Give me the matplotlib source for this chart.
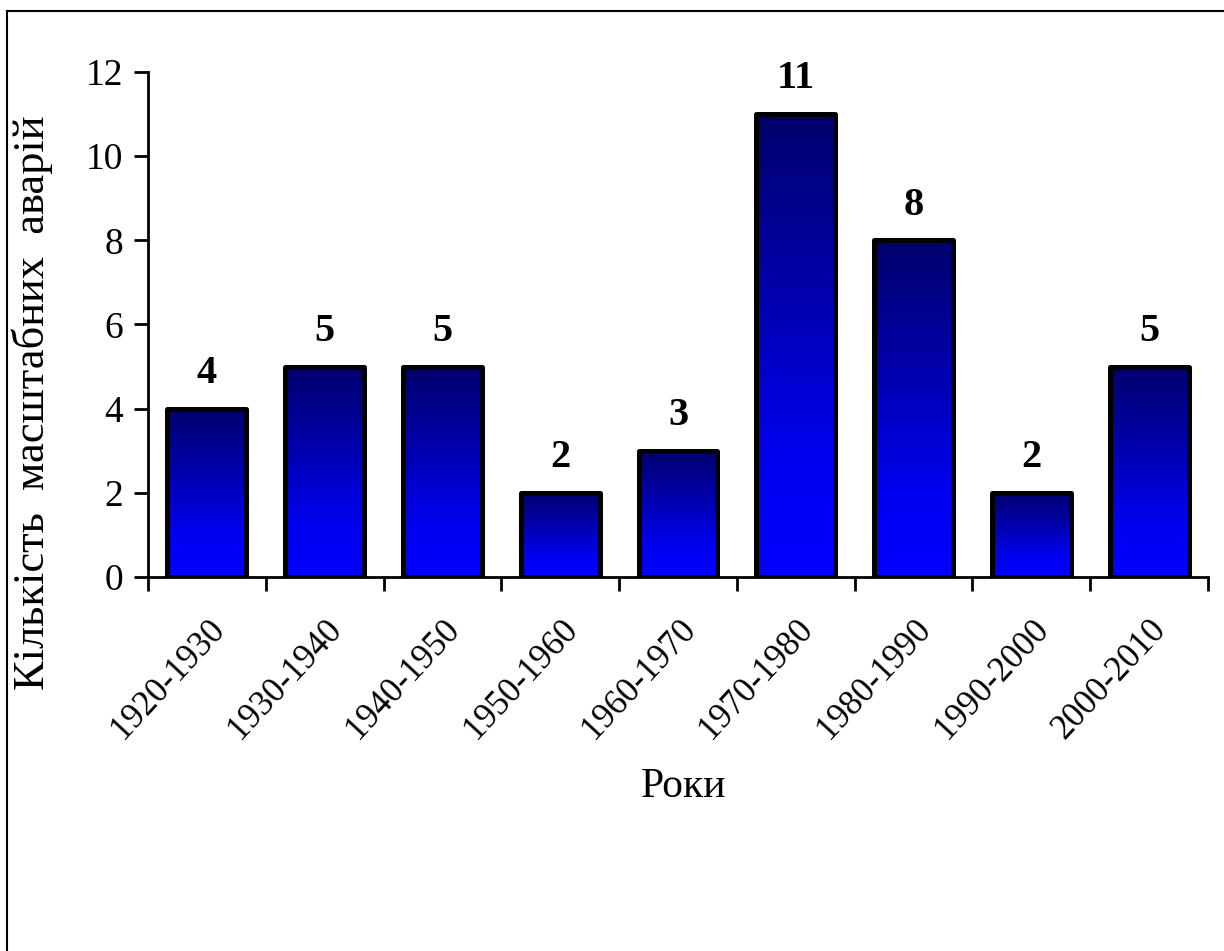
import numpy as np
import matplotlib
matplotlib.use("Agg")
import matplotlib.pyplot as plt
from matplotlib.colors import LinearSegmentedColormap
from matplotlib.lines import Line2D

# Major accidents per decade
decades = ["1920-1930", "1930-1940", "1940-1950", "1950-1960", "1960-1970",
           "1970-1980", "1980-1990", "1990-2000", "2000-2010"]
accidents = [4, 5, 5, 2, 3, 11, 8, 2, 5]

plt.rcParams["font.family"] = "Liberation Serif"

BAR_W = 0.67

fig = plt.figure(figsize=(12.24, 9.51), dpi=100)
ax = fig.add_axes([0.1209, 0.3933, 0.8660, 0.5310])

x = np.arange(len(decades))
bars = ax.bar(x, accidents, width=BAR_W, facecolor="none",
              edgecolor="black", linewidth=3.6, zorder=3)

# vertical gradient: dark navy at the top to bright blue at the bottom
cmap = LinearSegmentedColormap.from_list(
    "navy_blue", [(0.0, "#0000ff"), (0.25, "#0000f0"), (0.6, "#0000b0"), (1.0, "#00006c")])
grad = np.linspace(0, 1, 256).reshape(-1, 1)
for b in bars:
    bx, bw, bh = b.get_x(), b.get_width(), b.get_height()
    im = ax.imshow(grad, cmap=cmap, origin="lower", aspect="auto",
                   extent=[bx, bx + bw, 0, bh], zorder=2)
    im.set_clip_path(b)
    b.set_joinstyle("round")

for xi, v in zip(x, accidents):
    ax.annotate(str(v), (xi, v), xytext=(0, 12), textcoords="offset points",
                ha="center", va="bottom", fontsize=29, fontweight="bold")

ax.set_xlim(-0.5, len(decades) - 0.5)
ax.set_ylim(0, 12)
ax.set_yticks(range(0, 13, 2))
ax.set_yticklabels([str(t) for t in range(0, 13, 2)], fontsize=27)

# category boundary ticks, labels at bar centres
ax.set_xticks(np.arange(-0.5, len(decades), 1.0))
ax.set_xticklabels([])
ax.set_xticks(x, minor=True)
ax.set_xticklabels(decades, minor=True, rotation=47, ha="right",
                   rotation_mode="anchor", fontsize=25)
ax.tick_params(axis="x", which="minor", length=0, pad=26)
ax.tick_params(axis="x", which="major", direction="out", length=10, width=2)
ax.tick_params(axis="y", direction="out", length=10, width=2, pad=8)

for side in ("top", "right"):
    ax.spines[side].set_visible(False)
for side in ("left", "bottom"):
    ax.spines[side].set_linewidth(2)

ax.set_ylabel("Кількість  масштабних  аварій", fontsize=32)
ax.yaxis.set_label_coords(-0.09, 0.345)
ax.set_xlabel("Роки", fontsize=30)
ax.xaxis.set_label_coords(0.505, -0.378)

# frame on the left and top edges of the figure
fig.add_artist(Line2D([7 / 1224, 7 / 1224], [0, 1 - 11 / 951], color="black",
                      linewidth=1.5, transform=fig.transFigure))
fig.add_artist(Line2D([7 / 1224, 1], [1 - 11 / 951, 1 - 11 / 951], color="black",
                      linewidth=1.5, transform=fig.transFigure))

fig.savefig("out.png", dpi=100)
